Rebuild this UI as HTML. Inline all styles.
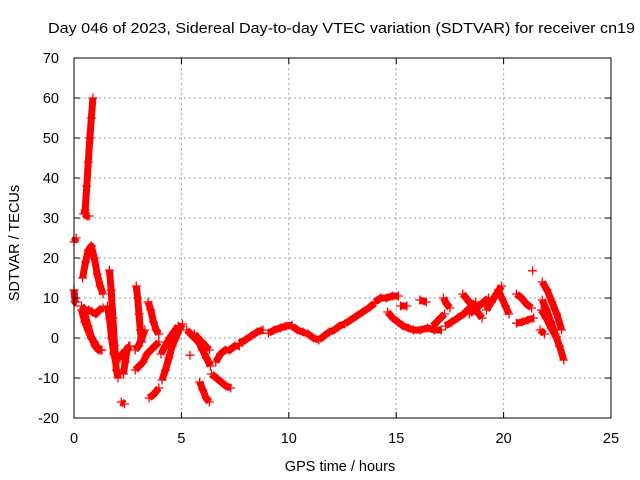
<!DOCTYPE html>
<html><head><meta charset="utf-8"><style>
body{margin:0;background:#fff}
svg{display:block;font-family:"Liberation Sans",sans-serif;font-size:14.5px}
</style></head><body>
<svg id="chart" width="640" height="480">
<rect width="640" height="480" fill="#fff"/>
<text x="48" y="33" textLength="587" lengthAdjust="spacingAndGlyphs">Day 046 of 2023, Sidereal Day-to-day VTEC variation (SDTVAR) for receiver cn19</text>
<g id="grid"></g><g id="data"></g><g id="axes"></g>
<text x="340" y="471" text-anchor="middle">GPS time / hours</text>
<text transform="translate(19,243) rotate(-90)" text-anchor="middle">SDTVAR / TECUs</text>
</svg>
<script>
const xTicks=[0,5,10,15,20,25];
const yTicks=[-20,-10,0,10,20,30,40,50,60,70];
// tracks: [startHour, endHour, values...]
const tracks=[
[0.45,0.88,31,32,38,44,50,55,60],[0.5,0.7,31,30.5,30.5],[0,0.1,24,25],[0,0.1,12,9,9],
[0.4,1.35,15,19,22,23,20,16,13,11],[0.35,1.35,8,7,7,6.5,6,7,7.5],[0.35,1.25,7,4,2,0,-1,-2.5,-3],
[0.5,1.3,6,3,0,-2,-3,-3],[1.65,2.05,17,12,5,-2,-8,-10],[1.55,1.95,8,5,0,-4,-6],
[1.9,2.6,-4,-5,-4,-3,-2],[2.9,3.15,13,10,6,2,-1],[3.45,3.95,9,7,4,2,1],
[2.85,3.95,-8,-7,-6,-4,-3,-2,-1],[2.85,3.3,-3,-2,0,2],[2.2,2.35,-16,-16.5],
[2.3,2.55,-9,-6,-3,-2],[3.5,3.95,-15,-14,-12.5],[4.1,5.05,-10.5,-8,-5,-2,0,2,3.5],
[4.05,4.85,-4,-2,0,1.5,3],[5.25,6.35,2,1,0,-1,-3,-5,-7],[5.6,6.3,1,0,-1,-2,-3],
[6.4,7.3,-9,-10,-11,-12,-12.5],[6.6,7.7,-6,-4,-3,-3,-2,-2],[5.85,6.3,-11,-13,-15,-16],
[5.4,5.4,-4.3],[7.7,8.8,-1.3,-0.5,0.5,1.5,2],[9.05,10.15,1.2,2,2.5,3,3.2],
[10.15,11.4,3,2,1.5,1,0,-0.5],[11.4,12.6,-0.5,0.5,1.5,2,3,3.5],[12.6,14,3.5,4.5,5.5,6.5,7.5,8.7],
[14,15.1,9,10,10,10.5,10.5],[14.6,15.8,6.5,5,4,3,2.5,2],[15.8,17.1,2,2,2.5,2,2],
[15.2,15.5,8,8],[16.1,16.4,9.5,9],[16.7,17.25,3,4.5,6],[17.2,17.5,10,8.5,7.5],
[17.3,18.7,3,4,5,6,7.5,9],[18.1,19,11,9,7,5],[18.4,19.3,6,7,8,9,10],[19.2,19.9,7,9,11,13],
[19.75,20.25,12,10,8,6],[20.6,21.3,11,10,8.5,7.5],[20.6,21.4,3.7,4,4.5,5],[21.35,21.35,16.8],
[21.8,22.7,14,12,9,6,2],[21.8,22.8,9.5,7,4,1,-2,-5.5],[21.75,22.45,7,5,2.5,0.3],[21.7,21.9,2,1]
];
const L=74,R=611,T=58,B=418;
const sx=t=>L+(t-0)/25*(R-L);
const sy=v=>B-(v+20)/90*(B-T);
const NS="http://www.w3.org/2000/svg";
function mk(tag,parent){const e=document.createElementNS(NS,tag);parent.appendChild(e);return e;}
const grid=document.getElementById('grid'),axes=document.getElementById('axes'),data=document.getElementById('data');
xTicks.forEach(t=>{const x=sx(t);
 if(t>0&&t<25){const g=mk('line',grid);g.setAttribute('x1',x);g.setAttribute('x2',x);g.setAttribute('y1',T);g.setAttribute('y2',B);g.setAttribute('stroke','#a0a0a0');g.setAttribute('stroke-dasharray','2,3');
 
 }
 [[B,B-6],[T,T+6]].forEach(p=>{const k=mk('line',axes);k.setAttribute('x1',x);k.setAttribute('x2',x);k.setAttribute('y1',p[0]);k.setAttribute('y2',p[1]);k.setAttribute('stroke','#000');
 
 });
 const tx=mk('text',axes);tx.setAttribute('x',x);tx.setAttribute('y',443);tx.setAttribute('text-anchor','middle');tx.textContent=t;
 
 
});
yTicks.forEach(v=>{const y=sy(v);
 if(v>-20&&v<70){const g=mk('line',grid);g.setAttribute('x1',L);g.setAttribute('x2',R);g.setAttribute('y1',y);g.setAttribute('y2',y);g.setAttribute('stroke','#a0a0a0');g.setAttribute('stroke-dasharray','2,3');
 
 }
 [[L,L+6],[R,R-6]].forEach(p=>{const k=mk('line',axes);k.setAttribute('x1',p[0]);k.setAttribute('x2',p[1]);k.setAttribute('y1',y);k.setAttribute('y2',y);k.setAttribute('stroke','#000');
 
 });
 const tx=mk('text',axes);tx.setAttribute('x',59);tx.setAttribute('y',y+5);tx.setAttribute('text-anchor','end');tx.textContent=v;
 
 
});
const border=mk('rect',axes);border.setAttribute('x',L);border.setAttribute('y',T);border.setAttribute('width',R-L);border.setAttribute('height',B-T);border.setAttribute('fill','none');border.setAttribute('stroke','#000');


tracks.forEach(tr=>{const t0=tr[0],t1=tr[1],vals=tr.slice(2);const n=vals.length;
 const pts=vals.map((v,i)=>[sx(n>1?t0+(t1-t0)*i/(n-1):t0),sy(v)]);
 if(n>1){const pl=mk('polyline',data);pl.setAttribute('points',pts.map(p=>p.join(',')).join(' '));pl.setAttribute('fill','none');pl.setAttribute('stroke','#f00');pl.setAttribute('stroke-width','7');pl.setAttribute('stroke-linejoin','round');
 
 }
 pts.forEach(p=>{const c=mk('path',data);c.setAttribute('d',`M${p[0]-4.5},${p[1]}h9M${p[0]},${p[1]-4.5}v9`);c.setAttribute('stroke','#f00');c.setAttribute('stroke-width','1.3');
 
 });
});
</script>
</body></html>
